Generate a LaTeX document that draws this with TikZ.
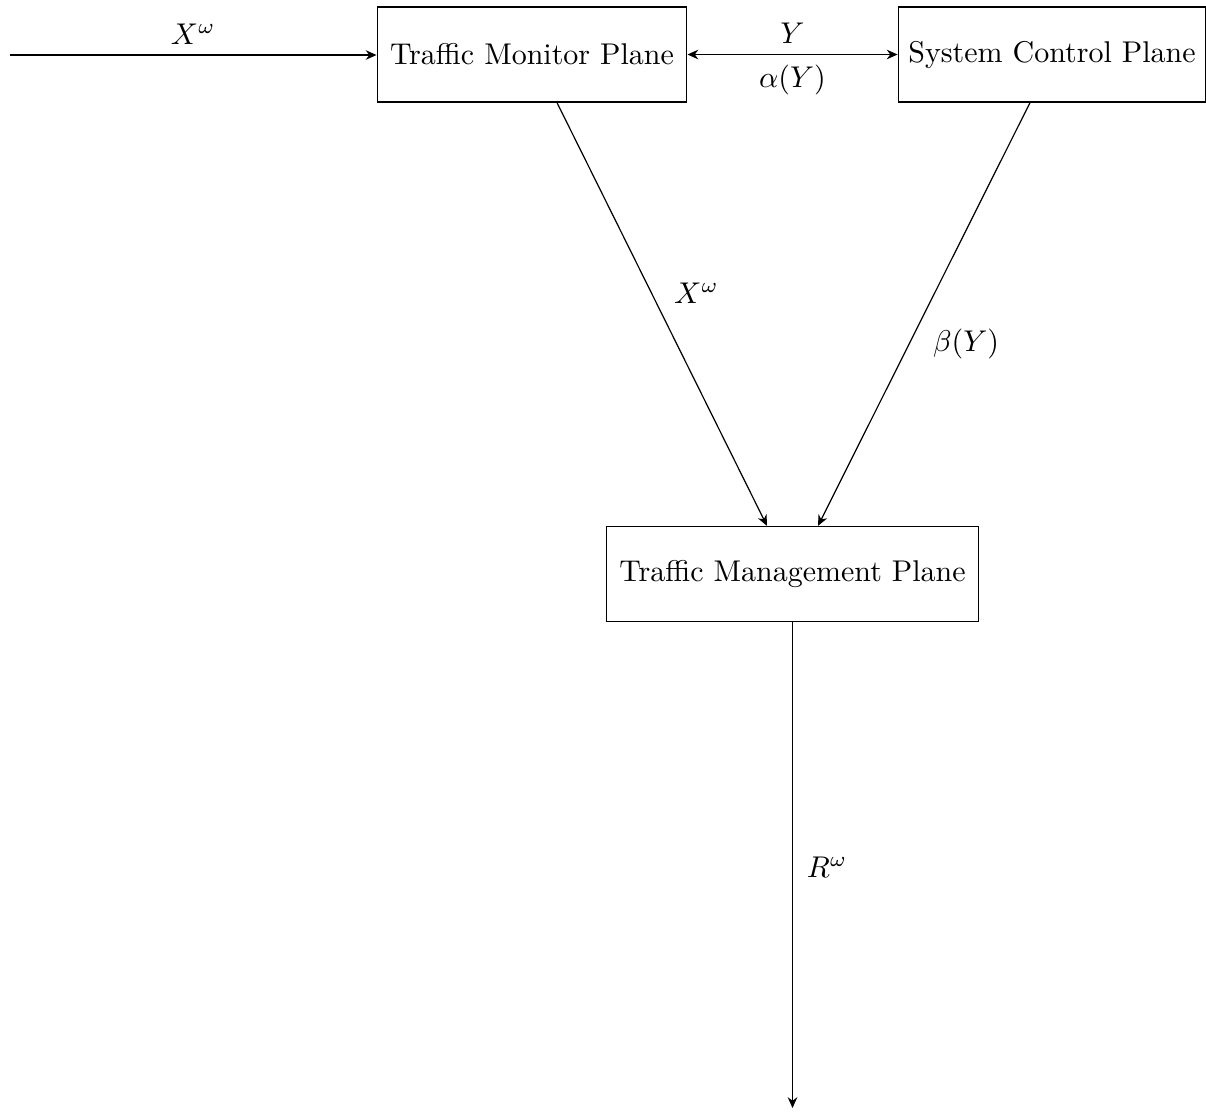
\documentclass[tikz,border=0pt]{standalone}
\usetikzlibrary{arrows.meta,calc}
\begin{document}
\begin{tikzpicture}[x=0.33333pt,y=-0.33333pt,
  plane/.style={draw,minimum height=31.7pt,inner xsep=4.3pt},
  conn/.style={-{Stealth[length=3.6pt,width=3.2pt]}},
  biconn/.style={{Stealth[length=3.6pt,width=3.2pt]}-{Stealth[length=3.6pt,width=3.2pt]}}]
\useasboundingbox (0,0) rectangle (1206,1112);
\node[plane] (tmp) at (532,54.5) {Traffic Monitor Plane};
\node[plane,inner xsep=3.4pt] (scp) at (1052,54.5) {System Control Plane};
\node[plane] (tmg) at (792.5,574) {Traffic Management Plane};
\coordinate (in) at (10,55);
\coordinate (out) at (793,1108);
\draw[conn] (in) -- node[above] {$X^\omega$} (in -| tmp.west);
\draw[biconn] (tmp.east) -- node[above] {$Y$} node[below] {$\alpha(Y)$} (scp.west);
\draw[conn] ($(tmp.south)+(25,0)$) -- node[pos=0.45,xshift=15pt] {$X^\omega$} ($(tmg.north)+(-25.5,0)$);
\draw[conn] ($(scp.south)+(-22,0)$) -- node[pos=0.57,xshift=19pt] {$\beta(Y)$} ($(tmg.north)+(25.5,0)$);
\draw[conn] (tmg.south) -- node[pos=0.505,xshift=11.5pt] {$R^\omega$} (tmg.south |- out);
\end{tikzpicture}
\end{document}
